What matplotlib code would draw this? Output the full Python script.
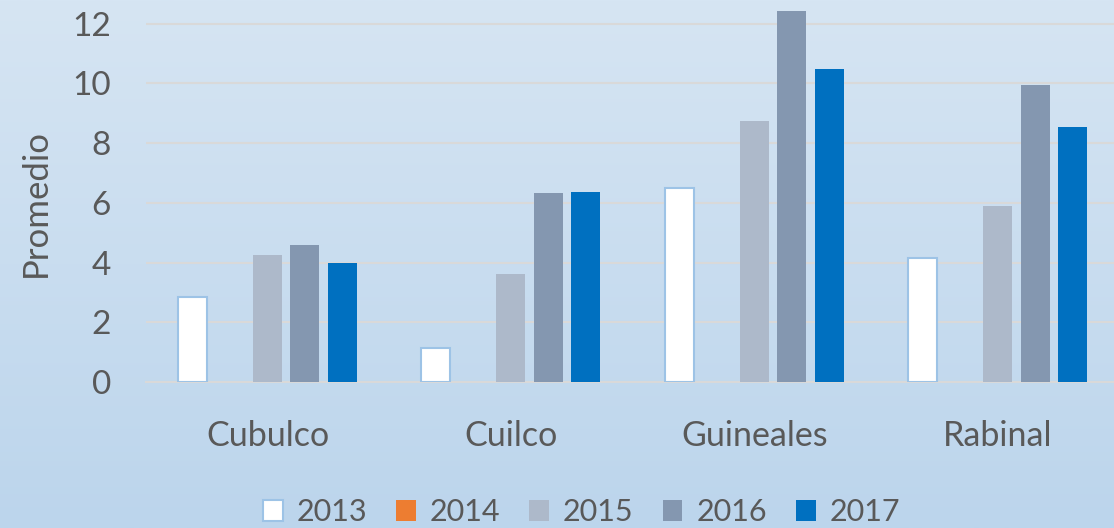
import numpy as np
import matplotlib
matplotlib.use("Agg")
import matplotlib.pyplot as plt

# data
categories = ["Cubulco", "Cuilco", "Guineales", "Rabinal"]
years = ["2013", "2014", "2015", "2016", "2017"]
v2013 = [2.85, 1.14, 6.49, 4.15]
v2014 = [0, 0, 0, 0]
v2015 = [4.25, 3.61, 8.74, 5.89]
v2016 = [4.58, 6.33, 12.42, 9.94]
v2017 = [3.98, 6.36, 10.48, 8.54]
yticks = [0, 2, 4, 6, 8, 10, 12]

series = [v2013, v2014, v2015, v2016, v2017]
colors = ["#ffffff", "#ed7d31", "#adb9ca", "#8497b0", "#0070c0"]
edges = ["#9dc3e6", "none", "none", "none", "none"]
text_color = "#595959"
font = ["Lato", "DejaVu Sans"]
plt.rcParams["font.family"] = font

fig = plt.figure(figsize=(11.14, 5.28), dpi=100)

# background gradient
bg = fig.add_axes([0, 0, 1, 1], zorder=-10)
top = np.array([214, 229, 243]) / 255
bot = np.array([188, 213, 236]) / 255
t = np.linspace(0, 1, 256)[:, None]
grad = (top * (1 - t) + bot * t)[:, None, :]
bg.imshow(grad, aspect="auto", extent=[0, 1, 0, 1])
bg.axis("off")

ax = fig.add_axes([0.1308, 0.2765, 0.8743, 0.7235])
ax.patch.set_alpha(0)

x = np.arange(len(categories))
slot = 0.154
width = 0.119
for i, (vals, c, ec) in enumerate(zip(series, colors, edges)):
    ax.bar(x + (i - 2) * slot, vals, width, color=c, edgecolor=ec,
           linewidth=1.5, label=years[i], zorder=3)

ax.set_xlim(-0.5, 3.5)
ax.set_ylim(0, 12.79)
ax.set_yticks(yticks)
ax.set_xticks(x)
ax.set_xticklabels(categories)
ax.grid(axis="y", color="#d9d9d9", linewidth=1.5, zorder=0)
ax.tick_params(axis="y", length=0, pad=25, labelsize=24, labelcolor=text_color)
ax.tick_params(axis="x", length=0, pad=27, labelsize=24.5, labelcolor=text_color)
for s in ["top", "right", "left"]:
    ax.spines[s].set_visible(False)
ax.spines["bottom"].set_color("#d9d9d9")
ax.spines["bottom"].set_linewidth(1.5)

fig.text(36 / 1114, 1 - 203 / 528, "Promedio", rotation=90, ha="center",
         va="center", fontsize=25, color=text_color)

handles, labels = ax.get_legend_handles_labels()
leg = fig.legend(handles, labels, loc="center", bbox_to_anchor=(0.522, 0.03),
                 ncol=5, frameon=False, fontsize=22, handlelength=0.65,
                 handleheight=0.65, handletextpad=0.45, columnspacing=0.95,
                 labelcolor=text_color)

fig.savefig("out.png", dpi=100)
